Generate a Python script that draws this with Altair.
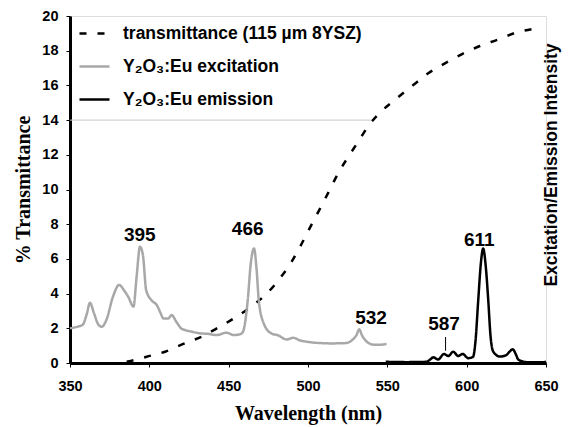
import altair as alt
import pandas as pd

# ---- data ----
exc_wl = [350, 355, 358, 360.5, 362.6, 365, 368, 370, 373, 377, 381, 384, 386.8, 390, 392, 394.1,
          396, 398, 401.5, 404.6, 407, 408.8, 412, 414, 417, 420, 422.5, 427, 432, 437, 442.4,
          448.7, 453, 457, 459, 462, 464, 466, 467.5, 469, 472, 477, 481, 486.5, 490.7, 495, 499,
          507.5, 515, 524, 528.5, 530.5, 532.3, 534, 536, 541, 545, 549.5]
exc_val = [2.0, 2.1, 2.2, 2.8, 3.47, 2.9, 2.2, 2.09, 2.5, 3.8, 4.5, 4.2, 3.8, 3.25, 5.0, 6.7,
           6.2, 4.2, 3.6, 3.35, 2.9, 2.57, 2.57, 2.77, 2.38, 2.0, 1.9, 1.8, 1.71, 1.68, 1.61,
           1.75, 1.61, 1.65, 1.8, 3.6, 5.8, 6.6, 5.5, 3.6, 2.3, 1.7, 1.6, 1.36, 1.45, 1.3, 1.23,
           1.15, 1.13, 1.15, 1.38, 1.6, 1.94, 1.6, 1.33, 1.06, 1.05, 1.1]

emi_wl = [549, 562, 574.7, 577, 579, 582, 585.7, 588.4, 591.5, 594.7, 597.4, 601, 604, 605.5,
          607.3, 609, 610.4, 612, 613.6, 615, 616.8, 621, 625, 627, 629, 631, 632.5, 635, 637.8,
          648.3, 650]
emi_val = [0.07, 0.05, 0.07, 0.2, 0.33, 0.2, 0.52, 0.4, 0.65, 0.4, 0.52, 0.28, 0.35, 1.2,
           3.63, 5.8, 6.6, 5.6, 3.63, 1.6, 0.65, 0.37, 0.46, 0.65, 0.79, 0.5, 0.2, 0.1, 0.05,
           0.05, 0.08]

tr_wl = [385.7, 392, 398.3, 410, 421.4, 433, 443.4, 455, 465.5, 474, 482.3, 489.7, 495, 501,
         507, 512.8, 519, 525.4, 531.7, 538, 546.4, 555.9, 566.3, 575.8, 586.3, 596.8, 608.3,
         619.9, 631.4, 645]
tr_val = [0.07, 0.2, 0.36, 0.65, 1.1, 1.52, 2.04, 2.67, 3.34, 4.0, 4.88, 5.84, 6.7, 7.76,
          8.8, 9.82, 10.93, 11.89, 12.76, 13.66, 14.52, 15.25, 16.02, 16.7, 17.27, 17.79, 18.27,
          18.65, 19.05, 19.3]

series_names = ["transmittance (115 \u00b5m 8YSZ)",
                "Y\u2082O\u2083:Eu excitation",
                "Y\u2082O\u2083:Eu emission"]

peak_labels = ["395", "466", "532", "587", "611"]
peak_x = [394, 462, 539.7, 585.7, 608]
peak_y = [7.38, 7.72, 2.59, 2.25, 7.09]

pointer_x = [586.7]
pointer_y0 = [0.71]
pointer_y1 = [1.5]

ref_y = [14]
ref_x0 = [350]
ref_x1 = [540]

x_ticks = [350, 400, 450, 500, 550, 600, 650]
y_ticks = [0, 2, 4, 6, 8, 10, 12, 14, 16, 18, 20]

# ---- tables ----
rows = []
for wl, v in zip(tr_wl, tr_val):
    rows.append({"wl": wl, "v": v, "series": series_names[0]})
for wl, v in zip(exc_wl, exc_val):
    rows.append({"wl": wl, "v": v, "series": series_names[1]})
for wl, v in zip(emi_wl, emi_val):
    rows.append({"wl": wl, "v": v, "series": series_names[2]})
lines_df = pd.DataFrame(rows)

labels_df = pd.DataFrame({"wl": peak_x, "v": peak_y, "t": peak_labels})
pointer_df = pd.DataFrame({"wl": pointer_x, "v": pointer_y0, "v2": pointer_y1})
ref_df = pd.DataFrame({"wl": ref_x0, "wl2": ref_x1, "v": ref_y})
rtitle_df = pd.DataFrame({"t": ["Excitation/Emission Intensity"]})

SANS = "Liberation Sans"
SERIF = "Liberation Serif"

x_scale = alt.Scale(domain=[350, 650], nice=False, zero=False)
y_scale = alt.Scale(domain=[0, 20], nice=False)
x_axis = alt.Axis(values=x_ticks, title="Wavelength (nm)", grid=False,
                  domainWidth=3, domainColor="black", tickColor="black",
                  tickSize=4, labelPadding=12, labelFont=SANS, labelFontSize=14.5,
                  labelFontWeight="bold", labelColor="black", labelOverlap=False,
                  labelFlush=False,
                  titleFont=SERIF, titleFontSize=20, titleFontWeight="bold",
                  titleColor="black", titlePadding=11)
y_axis = alt.Axis(values=y_ticks, title="% Transmittance", grid=False,
                  domainWidth=3, domainColor="black", tickColor="black",
                  tickSize=4, labelPadding=8, labelFont=SANS, labelFontSize=14.5,
                  labelFontWeight="bold", labelColor="black", labelOverlap=False,
                  labelFlush=False,
                  titleFont=SERIF, titleFontSize=20, titleFontWeight="bold",
                  titleColor="black", titlePadding=8)


def X():
    return alt.X("wl:Q", scale=x_scale, axis=x_axis)


def Y():
    return alt.Y("v:Q", scale=y_scale, axis=y_axis)


legend = alt.Legend(orient="none", legendX=8, legendY=1, title=None, symbolType="stroke",
                    symbolSize=900, symbolStrokeWidth=2.5, labelFontSize=17.5, labelFont=SANS,
                    labelFontWeight="bold", labelColor="black", labelOffset=12, rowPadding=8,
                    padding=0, labelLimit=0)

lines = alt.Chart(lines_df).mark_line(strokeWidth=2.5, interpolate="monotone").encode(
    x=X(),
    y=Y(),
    color=alt.Color("series:N", scale=alt.Scale(domain=series_names,
                                                range=["#000000", "#a8a8a8", "#000000"]),
                    legend=legend),
    strokeDash=alt.StrokeDash("series:N", scale=alt.Scale(domain=series_names,
                                                          range=[[7, 11], [1, 0], [1, 0]]),
                              legend=legend),
    order=alt.Order("wl:Q"),
)

ref = alt.Chart(ref_df).mark_rule(color="#c8c8c8", strokeWidth=1).encode(
    x=X(), x2="wl2:Q", y=Y())

pointer = alt.Chart(pointer_df).mark_rule(color="black", strokeWidth=1).encode(
    x=X(), y=Y(), y2="v2:Q")

labels = alt.Chart(labels_df).mark_text(font=SANS, fontSize=19, fontWeight="bold",
                                         color="black", baseline="middle").encode(
    x=X(), y=Y(), text="t:N")

rtitle = alt.Chart(rtitle_df).mark_text(font=SANS, fontSize=17.5, fontWeight="bold",
                                         color="black", angle=270, baseline="middle",
                                         align="center").encode(
    x=alt.value(482), y=alt.value(149), text="t:N")

chart = alt.layer(lines, ref, pointer, labels, rtitle).properties(
    width=476, height=347,
    autosize=alt.AutoSizeParams(type="none"),
    padding={"left": 62, "top": 8, "right": 17, "bottom": 63},
).configure_view(stroke="black", strokeWidth=2).configure(background="white")

chart.save("out.html", embed_options={"renderer": "svg", "actions": False})
